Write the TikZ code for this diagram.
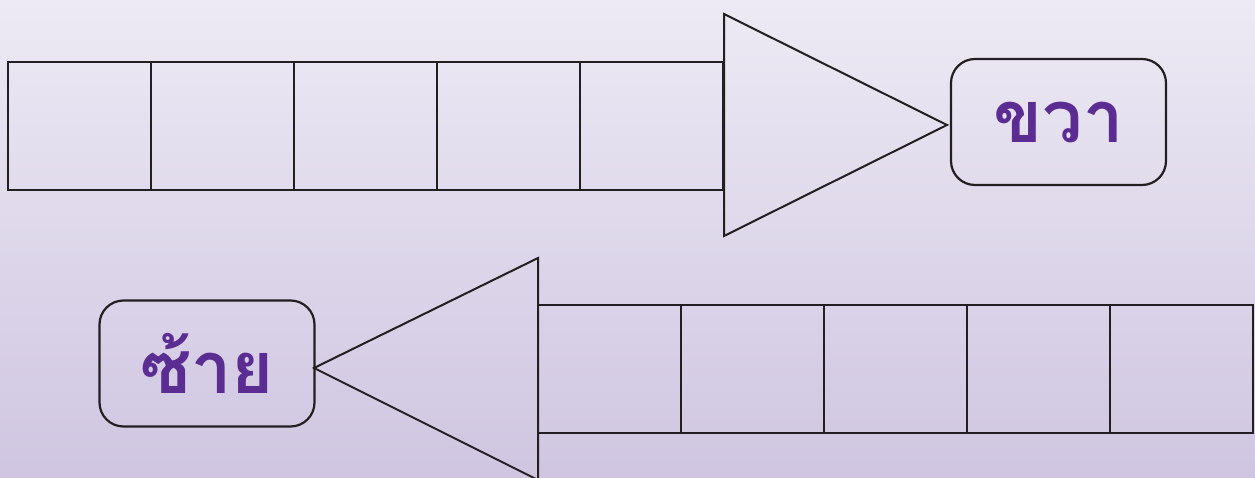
\documentclass[tikz,border=0pt]{standalone}
\usepackage{fontspec}
\newfontfamily\thaifont[Script=Thai]{Loma}
\definecolor{bgtop}{RGB}{237,234,244}
\definecolor{bgbot}{RGB}{207,197,225}
\definecolor{linec}{RGB}{35,31,32}
\definecolor{txtc}{RGB}{91,44,145}
\begin{document}
\begin{tikzpicture}[x=1pt,y=-1pt,
  cell/.style={draw=linec,line width=2pt,minimum width=143pt,minimum height=128pt,inner sep=0pt,outer sep=0pt},
  label/.style={draw=linec,line width=2.2pt,rounded corners=24pt,minimum width=215pt,minimum height=126pt,inner sep=0pt,font=\thaifont\bfseries\fontsize{72}{80}\selectfont,text=txtc},
  tri/.style={draw=linec,line width=2pt,line join=miter}]
\shade[top color=bgtop,bottom color=bgbot] (0,0) rectangle (1255,478);
\useasboundingbox (0,0) rectangle (1255,478);
% top row
\foreach \i in {0,...,4} {
  \node[cell] (t\i) at ({79.5+143.1*\i},126) {};
}
\draw[tri] (724,14) coordinate (ta) -- (947,125) coordinate (ttip) -- (724,236) coordinate (tb) -- cycle;
\node[label] (right) at (1058.5,122) {\raisebox{-5pt}{ขวา}};
% bottom row
\foreach \i in {0,...,4} {
  \node[cell] (b\i) at ({609.5+143.1*\i},369) {};
}
\draw[tri] (538,258) coordinate (ba) -- (314,368) coordinate (btip) -- (538,480) coordinate (bb) -- cycle;
\node[label] (left) at (207,363.5) {\raisebox{-6pt}{ซ้าย}};
\end{tikzpicture}
\end{document}
